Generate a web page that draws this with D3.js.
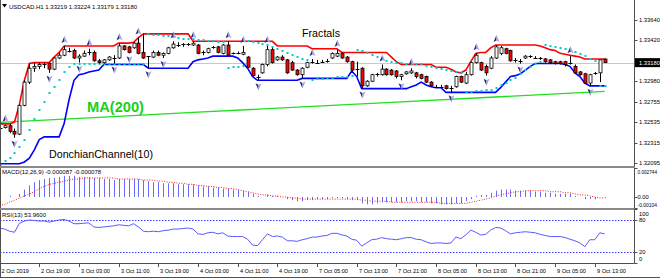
<!DOCTYPE html>
<html><head><meta charset="utf-8">
<script src="https://cdn.jsdelivr.net/npm/d3@7"></script>
<style>html,body{margin:0;padding:0;background:#fff;}svg{display:block;font-family:"Liberation Sans",Arial,sans-serif;}</style>
</head><body><svg id="c" width="660" height="278"></svg>
<script>
// ---------------- DATA ----------------
const open = [
1.3249,1.3248,1.3250,1.3244,1.3241,1.3272,1.3297,1.3312,1.3314,1.3316,
1.3317,1.3311,1.3323,1.3326,1.3332,1.3331,1.3323,1.3325,1.3328,1.3329,
1.3320,1.3318,1.3321,1.3324,1.3323,1.3336,1.3335,1.3334,1.3339,1.3329,
1.3324,1.3324,1.3329,1.3326,1.3328,1.3334,1.3337,1.3337,1.3337,1.3337,
1.3337,1.3328,1.3329,1.3334,1.3335,1.3328,1.3337,1.3328,1.3328,1.3327,
1.3324,1.3312,1.3303,1.3307,1.3316,1.3332,1.3321,1.3324,1.3321,1.3318,
1.3310,1.3305,1.3313,1.3319,1.3319,1.3319,1.3319,1.3323,1.3325,1.3328,
1.3324,1.3319,1.3312,1.3312,1.3293,1.3298,1.3305,1.3305,1.3311,1.3310,
1.3309,1.3303,1.3306,1.3307,1.3307,1.3305,1.3303,1.3297,1.3293,1.3292,
1.3293,1.3291,1.3292,1.3303,1.3296,1.3305,1.3318,1.3318,1.3314,1.3312,
1.3323,1.3328,1.3333,1.3331,1.3321,1.3321,1.3323,1.3324,1.3324,1.3323,
1.3322,1.3321,1.3319,1.3319,1.3319,1.3318,1.3314,1.3308,1.3306,1.3296,
1.3307,1.3307,1.33219];
const high = [
1.3251,1.3251,1.3252,1.3247,1.3273,1.3299,1.3317,1.3318,1.3318,1.3318,
1.3318,1.3324,1.3329,1.3336,1.3334,1.3333,1.3327,1.3331,1.3333,1.3331,
1.3322,1.3322,1.3325,1.3326,1.3339,1.3337,1.3336,1.3340,1.3345,1.3349,
1.3325,1.3331,1.3331,1.3329,1.3335,1.3341,1.3340,1.3339,1.3339,1.3341,
1.3338,1.3331,1.3334,1.3336,1.3336,1.3338,1.3341,1.3329,1.3330,1.3336,
1.3325,1.3313,1.3305,1.3317,1.3336,1.3334,1.3325,1.3326,1.3322,1.3320,
1.3311,1.3313,1.3319,1.3322,1.3321,1.3321,1.3322,1.3329,1.3332,1.3329,
1.3325,1.3320,1.3319,1.3313,1.3299,1.3306,1.3307,1.3316,1.3312,1.3311,
1.3310,1.3306,1.3309,1.3312,1.3308,1.3306,1.3304,1.3298,1.3294,1.3294,
1.3294,1.3293,1.3304,1.3304,1.3308,1.3319,1.3328,1.3319,1.3316,1.3325,
1.3337,1.3336,1.3334,1.3332,1.3323,1.3322,1.3326,1.3326,1.3325,1.3324,
1.3323,1.3322,1.3320,1.3320,1.3320,1.3325,1.3316,1.3309,1.3307,1.3306,
1.3308,1.3321,1.33224];
const low = [
1.3245,1.3247,1.3242,1.3237,1.3240,1.3271,1.3295,1.3308,1.3311,1.3312,
1.3307,1.3310,1.3322,1.3325,1.3329,1.3322,1.3318,1.3324,1.3326,1.3319,
1.3317,1.3317,1.3320,1.3317,1.3322,1.3331,1.3328,1.3333,1.3327,1.3322,
1.3312,1.3323,1.3325,1.3323,1.3327,1.3333,1.3335,1.3335,1.3336,1.3336,
1.3327,1.3326,1.3328,1.3333,1.3328,1.3327,1.3325,1.3327,1.3327,1.3326,
1.3312,1.3303,1.3299,1.3306,1.3314,1.3317,1.3320,1.3320,1.3306,1.3309,
1.3304,1.3301,1.3312,1.3317,1.3317,1.3318,1.3318,1.3322,1.3324,1.3322,
1.3318,1.3309,1.3303,1.3290,1.3292,1.3297,1.3303,1.3304,1.3304,1.3304,
1.3301,1.3299,1.3305,1.3306,1.3301,1.3300,1.3296,1.3292,1.3291,1.3291,
1.3289,1.3286,1.3291,1.3296,1.3295,1.3304,1.3317,1.3309,1.3304,1.3311,
1.3322,1.3326,1.3327,1.3319,1.3318,1.3317,1.3322,1.3323,1.3322,1.3321,
1.3318,1.3317,1.3316,1.3316,1.3314,1.3316,1.3306,1.3304,1.3295,1.3293,
1.3305,1.3297,1.33179];
const close = [
1.3248,1.3250,1.3244,1.3241,1.3272,1.3297,1.3312,1.3314,1.3316,1.3317,
1.3311,1.3323,1.3326,1.3332,1.3331,1.3323,1.3325,1.3328,1.3329,1.3320,
1.3318,1.3321,1.3324,1.3323,1.3336,1.3332,1.3329,1.3339,1.3328,1.3323,
1.3325,1.3329,1.3326,1.3328,1.3334,1.3338,1.3337,1.3338,1.3338,1.3339,
1.3328,1.3329,1.3333,1.3335,1.3329,1.3337,1.3326,1.3328,1.3328,1.3329,
1.3313,1.3304,1.3303,1.3316,1.3332,1.3318,1.3324,1.3321,1.3307,1.3310,
1.3305,1.3312,1.3318,1.3319,1.3318,1.3319,1.3320,1.3328,1.3328,1.3323,
1.3319,1.3310,1.3311,1.3293,1.3298,1.3305,1.3306,1.3311,1.3305,1.3305,
1.3303,1.3305,1.3308,1.3309,1.3303,1.3301,1.3297,1.3293,1.3292,1.3292,
1.3290,1.3291,1.3303,1.3297,1.3305,1.3318,1.3326,1.3310,1.3307,1.3323,
1.3335,1.3334,1.3328,1.3320,1.3321,1.3320,1.3325,1.3325,1.3323,1.3323,
1.3319,1.3318,1.3317,1.3317,1.3316,1.3318,1.3307,1.3305,1.3296,1.3305,
1.3307,1.3321,1.33180];
const donchianUpper = [
1.3252,1.3252,1.3252,1.3254,1.3273,1.3299,1.3317,1.3318,1.3318,1.3318,
1.3318,1.3324,1.3329,1.3336,1.3336,1.3336,1.3336,1.3336,1.3336,1.3336,
1.3336,1.3336,1.3336,1.3336,1.3339,1.3339,1.3339,1.3340,1.3345,1.3349,
1.3349,1.3349,1.3349,1.3349,1.3349,1.3349,1.3349,1.3349,1.3349,1.3341,
1.3341,1.3341,1.3341,1.3341,1.3341,1.3341,1.3341,1.3341,1.3341,1.3341,
1.3341,1.3341,1.3341,1.3341,1.3341,1.3341,1.3336,1.3336,1.3336,1.3336,
1.3336,1.3336,1.3336,1.3333,1.3333,1.3333,1.3333,1.3333,1.3333,1.3329,
1.3329,1.3329,1.3329,1.3329,1.3329,1.3329,1.3329,1.3329,1.3329,1.3324,
1.3319,1.3316,1.3316,1.3316,1.3316,1.3316,1.3316,1.3316,1.3313,1.3313,
1.3313,1.3311,1.3308,1.3307,1.3310,1.3319,1.3328,1.3329,1.3329,1.3334,
1.3337,1.3337,1.3337,1.3337,1.3337,1.3337,1.3337,1.3337,1.3337,1.3336,
1.3334,1.3332,1.3331,1.3328,1.3327,1.3326,1.3325,1.3324,1.3322,1.3322,
1.3322,1.3322,1.3322];
const donchianLower = [
1.3209,1.3209,1.3209,1.3209,1.3209,1.3211,1.3215,1.3224,1.3235,1.3238,
1.3238,1.3238,1.3238,1.3252,1.3278,1.3299,1.3305,1.3306,1.3308,1.3309,
1.3310,1.3316,1.3316,1.3316,1.3316,1.3316,1.3316,1.3316,1.3316,1.3316,
1.3312,1.3312,1.3312,1.3312,1.3312,1.3312,1.3312,1.3312,1.3312,1.3319,
1.3321,1.3322,1.3323,1.3325,1.3325,1.3325,1.3325,1.3325,1.3323,1.3318,
1.3312,1.3303,1.3299,1.3299,1.3299,1.3299,1.3299,1.3299,1.3299,1.3299,
1.3299,1.3301,1.3301,1.3301,1.3301,1.3301,1.3301,1.3301,1.3301,1.3301,
1.3301,1.3309,1.3303,1.3290,1.3290,1.3290,1.3290,1.3290,1.3290,1.3290,
1.3290,1.3290,1.3290,1.3292,1.3294,1.3297,1.3294,1.3292,1.3291,1.3291,
1.3286,1.3286,1.3286,1.3286,1.3286,1.3286,1.3286,1.3286,1.3286,1.3286,
1.3286,1.3291,1.3297,1.3303,1.3304,1.3306,1.3310,1.3314,1.3317,1.3317,
1.3317,1.3317,1.3317,1.3317,1.3316,1.3314,1.3307,1.3303,1.3296,1.3293,
1.3293,1.3293,1.3293];
const parabolicSAR = [
1.3208,1.3212,1.3215,1.3221,1.3227,1.3235,1.3245,1.3257,1.3267,1.3276,
1.3285,1.3292,1.3299,1.3308,1.3313,1.3316,1.3317,1.3317,1.3317,1.3317,
1.3316,1.3316,1.3316,1.3316,1.3316,1.3316,1.3316,1.3316,1.3316,1.3316,
1.3349,1.3348,1.3348,1.3347,1.3347,1.3346,1.3345,1.3344,1.3344,1.3343,
1.3342,1.3342,1.3341,1.3341,1.3340,1.3340,1.3312,1.3313,1.3313,1.3314,
1.3341,1.3340,1.3339,1.3338,1.3337,1.3335,1.3333,1.3331,1.3328,1.3326,
1.3324,1.3322,1.3321,1.3299,1.3300,1.3300,1.3301,1.3301,1.3302,1.3303,
1.3303,1.3304,1.3332,1.3331,1.3328,1.3326,1.3324,1.3322,1.3320,1.3319,
1.3318,1.3318,1.3317,1.3317,1.3316,1.3316,1.3314,1.3313,1.3312,1.3311,
1.3310,1.3309,1.3308,1.3307,1.3286,1.3286,1.3287,1.3287,1.3288,1.3289,
1.3291,1.3294,1.3296,1.3299,1.3301,1.3306,1.3310,1.3313,1.3316,1.3319,
1.3337,1.3336,1.3335,1.3334,1.3333,1.3331,1.3329,1.3327,1.3325,1.3322,
1.3320,1.3293,1.3293];
const maBars = [0, 20, 40, 60, 80, 100, 122];
const ma200 = [1.32537, 1.32591, 1.32646, 1.32700, 1.32755, 1.32810, 1.32870];
const fractalUp = [1,13,18,24,28,35,39,46,49,54,63,68,77,83,96,100,115];
const fractalDown = [3,10,16,23,26,30,33,52,61,73,81,91,98,105,119];
const macdMain = [
-0.0003,0.0000,0.0001,0.0000,0.0003,0.0007,0.0011,0.0014,0.0016,0.0017,
0.0018,0.0018,0.0019,0.0020,0.0020,0.0020,0.0019,0.0019,0.0019,0.0018,
0.0018,0.0017,0.0017,0.0016,0.0017,0.0017,0.0017,0.0017,0.0017,0.0016,
0.0015,0.0014,0.0014,0.0013,0.0013,0.0013,0.0012,0.0012,0.0012,0.0012,
0.0011,0.0010,0.0010,0.0009,0.0009,0.0008,0.0008,0.0007,0.0007,0.0006,
0.0005,0.0003,0.0001,0.0000,0.0002,0.0001,0.0001,0.0000,-0.0002,-0.0003,
-0.0004,-0.0004,-0.0003,-0.0003,-0.0002,-0.0002,-0.0002,-0.0001,-0.0001,-0.0001,
-0.0002,-0.0003,-0.0003,-0.0006,-0.0007,-0.0007,-0.0006,-0.0005,-0.0005,-0.0005,
-0.0005,-0.0005,-0.0004,-0.0004,-0.0004,-0.0005,-0.0005,-0.0006,-0.0006,-0.0007,
-0.0007,-0.0007,-0.0006,-0.0006,-0.0004,-0.0002,0.0001,0.0002,0.0002,0.0004,
0.0006,0.0007,0.0007,0.0007,0.0006,0.0006,0.0006,0.0006,0.0005,0.0005,
0.0004,0.0004,0.0003,0.0003,0.0003,0.0003,0.0001,0.0000,-0.0002,-0.0002,
-0.0002,0.0000,-0.000087];
const macdSignal = [
-0.0008,-0.0007,-0.0005,-0.0003,-0.0001,0.0001,0.0003,0.0005,0.0008,0.0010,
0.0012,0.0013,0.0014,0.0015,0.0016,0.0017,0.0017,0.0018,0.0018,0.0018,
0.0018,0.0018,0.0018,0.0018,0.0017,0.0017,0.0017,0.0017,0.0017,0.0016,
0.0016,0.0016,0.0015,0.0015,0.0014,0.0014,0.0013,0.0013,0.0012,0.0012,
0.0011,0.0011,0.0010,0.0010,0.0009,0.0009,0.0008,0.0008,0.0007,0.0006,
0.0005,0.0004,0.0003,0.0002,0.0002,0.0001,0.0001,0.0000,0.0000,-0.0001,
-0.0001,-0.0002,-0.0002,-0.0002,-0.0002,-0.0002,-0.0002,-0.0002,-0.0002,-0.0002,
-0.0002,-0.0002,-0.0002,-0.0003,-0.0003,-0.0004,-0.0004,-0.0004,-0.0004,-0.0005,
-0.0005,-0.0005,-0.0005,-0.0005,-0.0005,-0.0005,-0.0005,-0.0005,-0.0005,-0.0006,
-0.0006,-0.0006,-0.0006,-0.0006,-0.0006,-0.0005,-0.0004,-0.0003,-0.0002,-0.0001,
0.0001,0.0002,0.0003,0.0004,0.0005,0.0005,0.0006,0.0006,0.0006,0.0006,
0.0006,0.0005,0.0005,0.0005,0.0004,0.0004,0.0003,0.0002,0.0002,0.0001,
0.0000,-0.0001,-0.000078];
const rsi13 = [
65,63,59,57,74,78,80,79,78,78,
76,78,80,81,78,73,73,74,74.5,67,
66,67,68,69,71,70,69,73,67,59,
58,59,58,60,61,63,63,64,65,63,
54,53,56,57,54,56,50,49,49,49,
44,33,32,43,54,49,50,48,41,41,
40,43,45,48,48,50,51,55,55,52,
50,44,42,31,37,43,44,47,45,44,
43,45,47,47,44,43,39,36,37,37,
36,37,48,45,52,61,57,52,53,61,
66,65,60,54,56,57,58,57,56,53,
51,49,49,49,47,44,41,37,30,43,
43,56,53.96];
const priceTicks = [1.33640, 1.33420, 1.32980, 1.32755, 1.32535, 1.32315, 1.32095];
const bidPrice = 1.33180;
const macdTicks = [0.002744, 0.00, -0.00104];
const macdTickLabels = ["0.002744", "0.00", "-0.00104"];
const rsiTicks = [100, 80, 20, 0];
const rsiLevels = [80, 20];
const timeBars = [0,8,16,24,32,40,48,56,64,72,80,88,96,104,112,120];
const timeLabels = ["2 Oct 2019","2 Oct 19:00","3 Oct 03:00","3 Oct 11:00","3 Oct 19:00","4 Oct 03:00","4 Oct 11:00","4 Oct 19:00","7 Oct 05:00","7 Oct 13:00","7 Oct 21:00","8 Oct 05:00","8 Oct 13:00","8 Oct 21:00","9 Oct 05:00","9 Oct 13:00"];
const headerText = "USDCAD.H1  1.33219 1.33224 1.33179 1.33180";
const macdTitle = "MACD(12,26,9) -0.000087 -0.000078";
const rsiTitle = "RSI(13) 53.9600";

// ---------------- LAYOUT ----------------
const svg = d3.select("#c");
const plotR = 634.5;
const mainTop = 0, mainBot = 166;
const macdTop = 168, macdBot = 208;
const rsiTop = 210, rsiBot = 263;
const x = d3.scaleLinear().domain([0, 122]).range([-0.4, 604.7]);
const y = d3.scaleLinear().domain([1.32077, 1.33855]).range([165, 0]);
const yM = d3.scaleLinear().domain([-0.00104, 0.002744]).range([208, 168]);
const yR = d3.scaleLinear().domain([0, 100]).range([262.7, 209.3]);
const px = i => Math.round(x(i)) + 0.5;
const n = close.length;

const defs = svg.append("defs");
defs.append("clipPath").attr("id","cm").append("rect").attr("x",0).attr("y",mainTop).attr("width",plotR).attr("height",mainBot-mainTop);
defs.append("clipPath").attr("id","cmacd").append("rect").attr("x",0).attr("y",macdTop).attr("width",plotR).attr("height",macdBot-macdTop);
defs.append("clipPath").attr("id","crsi").append("rect").attr("x",0).attr("y",rsiTop).attr("width",plotR).attr("height",rsiBot-rsiTop);

// ---------------- MAIN ----------------
const gm = svg.append("g").attr("clip-path","url(#cm)");
gm.append("line").attr("x1",0).attr("x2",plotR).attr("y1",Math.round(y(bidPrice))+0.5).attr("y2",Math.round(y(bidPrice))+0.5)
  .attr("stroke","#c8c8c8").attr("stroke-width",1);
gm.append("path").datum(maBars.map((b,k)=>[b,ma200[k]]))
  .attr("d", d3.line().x(d=>x(d[0])).y(d=>y(d[1])))
  .attr("fill","none").attr("stroke","#1ee01e").attr("stroke-width",1.3);
const lineI = d3.line().x((d,i)=>x(i)).y(d=>y(d));
gm.append("path").datum(donchianUpper).attr("d",lineI).attr("fill","none").attr("stroke","#ff0000").attr("stroke-width",1.6);
gm.append("path").datum(donchianLower).attr("d",lineI).attr("fill","none").attr("stroke","#0000ff").attr("stroke-width",1.6);
gm.selectAll("rect.sar").data(parabolicSAR).enter().append("rect").attr("class","sar")
  .attr("x",(d,i)=>Math.round(x(i))-0.5).attr("y",d=>Math.round(y(d))-1).attr("width",2).attr("height",2)
  .attr("fill","#00cccc");
const cg = gm.append("g");
for (let i=0;i<n;i++){
  const xc = px(i);
  cg.append("line").attr("x1",xc).attr("x2",xc).attr("y1",y(high[i])).attr("y2",y(low[i])).attr("stroke","#000").attr("stroke-width",1);
  const yo = y(open[i]), yc = y(close[i]);
  const top = Math.min(yo,yc), h = Math.abs(yo-yc);
  if (h < 1) {
    cg.append("line").attr("x1",xc-2).attr("x2",xc+2).attr("y1",Math.round(yc)+0.5).attr("y2",Math.round(yc)+0.5).attr("stroke","#000").attr("stroke-width",1);
  } else {
    cg.append("rect").attr("x",xc-1.5).attr("y",top).attr("width",3).attr("height",h)
      .attr("fill", close[i]>=open[i] ? "#ffffff" : "#ff0000").attr("stroke","#000").attr("stroke-width",0.8);
  }
}
function arrow(g, xc, yc, up){
  const s = up ? 1 : -1;
  g.append("path").attr("d",`M${xc},${yc-4*s} L${xc-3},${yc+3*s} L${xc},${yc+1.5*s} Z`).attr("fill","#2a2a8a");
  g.append("path").attr("d",`M${xc},${yc-4*s} L${xc+3},${yc+3*s} L${xc},${yc+1.5*s} Z`).attr("fill","#a8a8e0");
}
const fg = gm.append("g");
fractalUp.forEach(i=>arrow(fg, px(i), y(high[i])-6, true));
fractalDown.forEach(i=>arrow(fg, px(i), y(low[i])+6, false));

svg.append("path").attr("d","M2,4 L7,4 L4.5,7.5 Z").attr("fill","#000");
svg.append("text").attr("x",9).attr("y",8.5).attr("font-size",6).attr("fill","#000").text(headerText);
svg.append("text").attr("x",302).attr("y",37).attr("font-size",10.7).attr("fill","#000").text("Fractals");
svg.append("text").attr("x",49).attr("y",158).attr("font-size",10.7).attr("fill","#000").text("DonchianChannel(10)");
svg.append("text").attr("x",87).attr("y",112).attr("font-size",15).attr("font-weight","bold").attr("fill","#19d019")
  .attr("textLength",57).attr("lengthAdjust","spacingAndGlyphs").text("MA(200)");

// ---------------- MACD ----------------
const gmac = svg.append("g").attr("clip-path","url(#cmacd)");
gmac.selectAll("line.h").data(macdMain).enter().append("line").attr("class","h")
  .attr("x1",(d,i)=>px(i)).attr("x2",(d,i)=>px(i)).attr("y1",yM(0)).attr("y2",d=>yM(d))
  .attr("stroke","#6a6aff").attr("stroke-width",1);
gmac.append("path").datum(macdSignal).attr("d",d3.line().x((d,i)=>x(i)).y(d=>yM(d)))
  .attr("fill","none").attr("stroke","#ff2020").attr("stroke-width",1).attr("stroke-dasharray","1,1.5");
svg.append("text").attr("x",2).attr("y",174).attr("font-size",6).attr("fill","#000").text(macdTitle);

// ---------------- RSI ----------------
const gr = svg.append("g").attr("clip-path","url(#crsi)");
rsiLevels.forEach(v=>{
  gr.append("line").attr("x1",0).attr("x2",plotR).attr("y1",Math.round(yR(v))+0.5).attr("y2",Math.round(yR(v))+0.5)
    .attr("stroke","#3a3aff").attr("stroke-width",1).attr("stroke-dasharray","1.5,1.5");
});
gr.append("path").datum(rsi13).attr("d",d3.line().x((d,i)=>x(i)).y(d=>yR(d)))
  .attr("fill","none").attr("stroke","#5a5aff").attr("stroke-width",1);
svg.append("text").attr("x",2).attr("y",217).attr("font-size",6).attr("fill","#000").text(rsiTitle);

// ---------------- FRAME ----------------
const fr = svg.append("g").attr("stroke","#505050").attr("fill","none");
fr.append("line").attr("x1",0.5).attr("x2",0.5).attr("y1",0).attr("y2",277.5);
fr.append("line").attr("x1",plotR).attr("x2",plotR).attr("y1",0).attr("y2",263.5);
fr.append("line").attr("x1",0).attr("x2",plotR).attr("y1",263.5).attr("y2",263.5);
fr.append("line").attr("x1",0).attr("x2",660).attr("y1",277.5).attr("y2",277.5);
svg.append("rect").attr("x",0).attr("y",166).attr("width",plotR+0.5).attr("height",2).attr("fill","#8a8a8a");
svg.append("rect").attr("x",0).attr("y",208).attr("width",plotR+0.5).attr("height",2).attr("fill","#8a8a8a");

// ---------------- AXES ----------------
const ax = svg.append("g").attr("font-size",5.8).attr("fill","#000");
priceTicks.forEach(v=>{
  const yy = y(v);
  svg.append("line").attr("x1",plotR).attr("x2",plotR+3).attr("y1",Math.round(yy)+0.5).attr("y2",Math.round(yy)+0.5).attr("stroke","#505050");
  ax.append("text").attr("x",639).attr("y",yy+2).text(d3.format(".5f")(v));
});
const by = y(bidPrice);
svg.append("rect").attr("x",635).attr("y",by-4.5).attr("width",25).attr("height",9).attr("fill","#000");
svg.append("text").attr("x",639).attr("y",by+2).attr("font-size",5.8).attr("fill","#fff").text(d3.format(".5f")(bidPrice));
macdTicks.forEach((v,k)=>{
  let yy = yM(v);
  if (k===0) yy += 3.5; if (k===macdTicks.length-1) yy -= 3.5;
  svg.append("line").attr("x1",plotR).attr("x2",plotR+3).attr("y1",Math.round(yM(v))+0.5).attr("y2",Math.round(yM(v))+0.5).attr("stroke","#505050");
  const t = ax.append("text").attr("x",637.5).attr("y",yy+2).text(macdTickLabels[k]);
  if (macdTickLabels[k].length > 6) t.attr("font-size",5.4).attr("textLength",19.5).attr("lengthAdjust","spacingAndGlyphs");
});
rsiTicks.forEach((v,k)=>{
  let yy = yR(v);
  if (v===100) yy += 4.5; if (v===0) yy -= 3.7;
  svg.append("line").attr("x1",plotR).attr("x2",plotR+3).attr("y1",Math.round(yR(v))+0.5).attr("y2",Math.round(yR(v))+0.5).attr("stroke","#505050");
  ax.append("text").attr("x",639).attr("y",yy+2).text(String(v));
});
timeBars.forEach((b,k)=>{
  const xx = px(b);
  svg.append("line").attr("x1",xx).attr("x2",xx).attr("y1",263.5).attr("y2",267).attr("stroke","#505050");
  ax.append("text").attr("x", k===0 ? 1.5 : xx+1.5).attr("y",272.5).attr("font-size",5.6).text(timeLabels[k]);
});
</script></body></html>
